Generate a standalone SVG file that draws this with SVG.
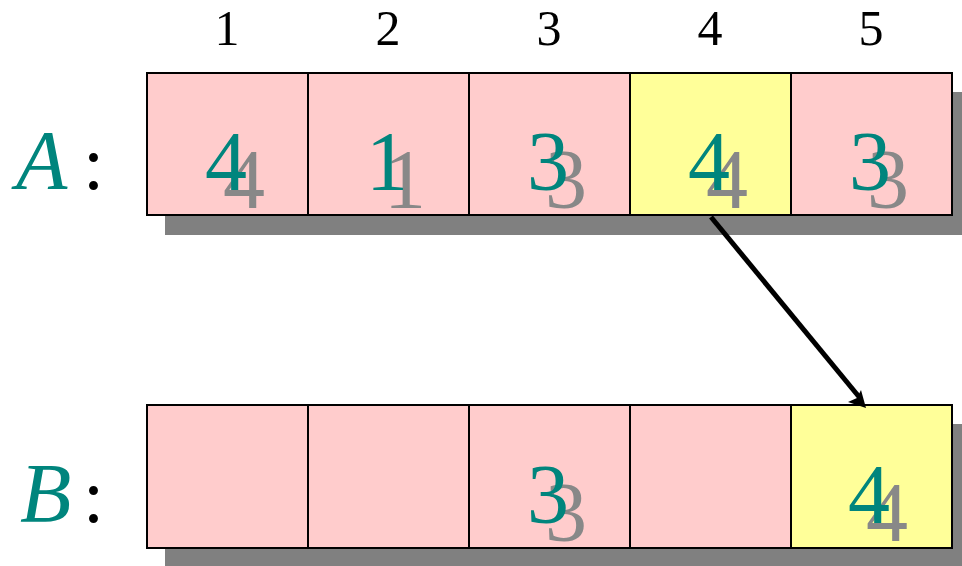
<svg xmlns="http://www.w3.org/2000/svg" width="962" height="566" viewBox="0 0 962 566">
<defs>
<style>
.shadow{fill:#808080}
.cell{stroke:#000;stroke-width:2}
.pink{fill:#FFCCCC}
.yellow{fill:#FFFF99}
.val{font-size:84px;text-anchor:middle}
.fg{fill:#00857D}
.bg{fill:#888888}
.hdr{font-size:50px;text-anchor:middle;fill:#000}
.lbl{font-size:84px;font-style:italic;fill:#00857D}
.colon{font-size:76px;fill:#000}
</style>
</defs>
<rect width="962" height="566" fill="#fff"/>
<g id="headers" font-family="Liberation Serif, Times New Roman, serif">
<text class="hdr" x="227" y="45">1</text>
<text class="hdr" x="388" y="45">2</text>
<text class="hdr" x="549" y="45">3</text>
<text class="hdr" x="710" y="45">4</text>
<text class="hdr" x="871" y="45">5</text>
</g>
<g id="labelA" font-family="Liberation Serif, Times New Roman, serif">
<text class="lbl" x="16" y="189">A</text>
<text class="colon" x="83" y="189">:</text>
</g>
<g id="labelB" font-family="Liberation Serif, Times New Roman, serif">
<text class="lbl" x="20" y="522">B</text>
<text class="colon" x="83" y="522">:</text>
</g>
<g id="arrayA" font-family="Liberation Serif, Times New Roman, serif">
<rect class="shadow" x="165" y="92" width="805" height="143"/>
<g id="A1"><rect class="cell pink" x="147" y="73" width="161" height="142"/><text class="val bg" x="244" y="208">4</text><text class="val fg" x="226" y="190">4</text></g>
<g id="A2"><rect class="cell pink" x="308" y="73" width="161" height="142"/><text class="val bg" x="405" y="208">1</text><text class="val fg" x="387" y="190">1</text></g>
<g id="A3"><rect class="cell pink" x="469" y="73" width="161" height="142"/><text class="val bg" x="566" y="208">3</text><text class="val fg" x="548" y="190">3</text></g>
<g id="A4"><rect class="cell yellow" x="630" y="73" width="161" height="142"/><text class="val bg" x="727" y="208">4</text><text class="val fg" x="709" y="190">4</text></g>
<g id="A5"><rect class="cell pink" x="791" y="73" width="161" height="142"/><text class="val bg" x="888" y="208">3</text><text class="val fg" x="870" y="190">3</text></g>
</g>
<g id="arrayB" font-family="Liberation Serif, Times New Roman, serif">
<rect class="shadow" x="165" y="424" width="805" height="143"/>
<g id="B1"><rect class="cell pink" x="147" y="405" width="161" height="143"/></g>
<g id="B2"><rect class="cell pink" x="308" y="405" width="161" height="143"/></g>
<g id="B3"><rect class="cell pink" x="469" y="405" width="161" height="143"/><text class="val bg" x="566" y="541">3</text><text class="val fg" x="548" y="523">3</text></g>
<g id="B4"><rect class="cell pink" x="630" y="405" width="161" height="143"/></g>
<g id="B5"><rect class="cell yellow" x="791" y="405" width="161" height="143"/><text class="val bg" x="887" y="541">4</text><text class="val fg" x="869" y="523">4</text></g>
</g>
<g id="connectors">
<line x1="711" y1="217" x2="860" y2="398" stroke="#000" stroke-width="5"/>
<path d="M866,408 L848,402 L857,398 L861,390 Z" fill="#000"/>
</g>
</svg>
